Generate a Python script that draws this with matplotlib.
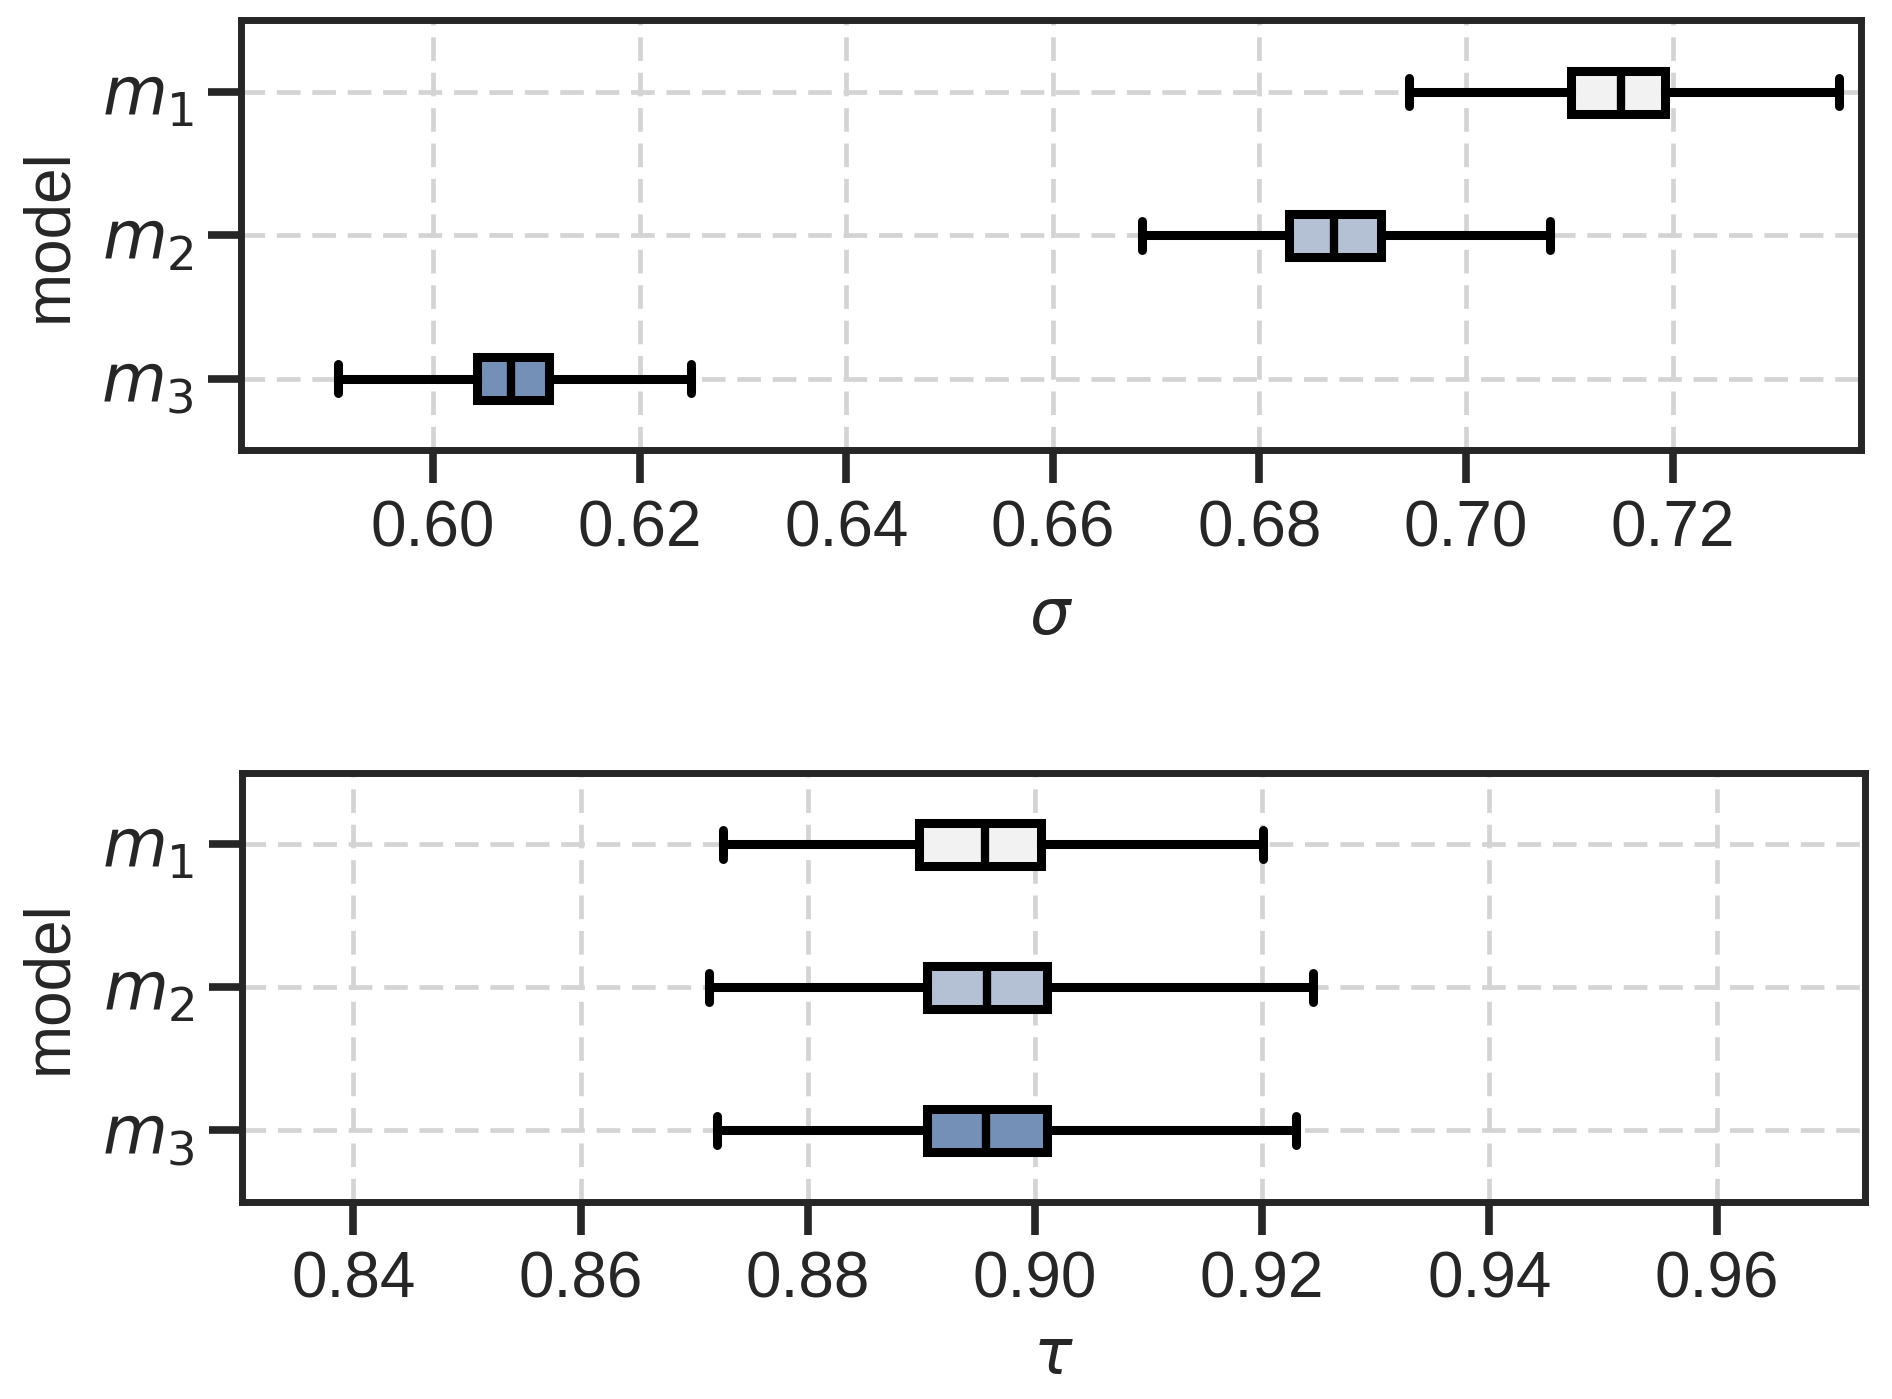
import matplotlib
matplotlib.use("Agg")
import matplotlib.pyplot as plt
import numpy as np

plt.rcParams["font.family"] = ["Liberation Sans", "DejaVu Sans"]
plt.rcParams["mathtext.fontset"] = "dejavusans"

# data (whisker low, q1, median, q3, whisker high)
models = ["$m_1$", "$m_2$", "$m_3$"]
box_colors = ["#f2f2f2", "#b4c1d5", "#7590b6"]

sigma_whislo = [0.6945, 0.6686, 0.5908]
sigma_q1 = [0.7102, 0.6829, 0.6042]
sigma_med = [0.7150, 0.6872, 0.6075]
sigma_q3 = [0.7193, 0.6918, 0.6112]
sigma_whishi = [0.7361, 0.7081, 0.6250]
sigma_ticks = [0.60, 0.62, 0.64, 0.66, 0.68, 0.70, 0.72]

tau_whislo = [0.8725, 0.8713, 0.8720]
tau_q1 = [0.8898, 0.8905, 0.8905]
tau_med = [0.8956, 0.8958, 0.8957]
tau_q3 = [0.9005, 0.9011, 0.9011]
tau_whishi = [0.9201, 0.9245, 0.9230]
tau_ticks = [0.84, 0.86, 0.88, 0.90, 0.92, 0.94, 0.96]

TEXT = "#262626"
FS = 46


def make_stats(lo, q1, med, q3, hi):
    return [dict(whislo=a, q1=b, med=c, q3=d, whishi=e, fliers=[])
            for a, b, c, d, e in zip(lo, q1, med, q3, hi)]


def draw_panel(ax, stats, ticks, xlim, xlabel, labelpad):
    ax.set_axisbelow(True)
    ax.grid(True, color="#d4d4d4", linewidth=3.4, linestyle=(0, (5, 2.5)))
    bp = ax.bxp(
        stats,
        positions=[0, 1, 2],
        widths=0.3,
        capwidths=0.2,
        orientation="horizontal",
        patch_artist=True,
        showfliers=False,
        boxprops=dict(linewidth=6.5, edgecolor="black"),
        whiskerprops=dict(linewidth=6.5, color="black"),
        capprops=dict(linewidth=6.5, color="black", solid_capstyle="round"),
        medianprops=dict(linewidth=6, color="black"),
    )
    for patch, c in zip(bp["boxes"], box_colors):
        patch.set_facecolor(c)
    ax.set_ylim(2.5, -0.5)
    ax.set_yticks([0, 1, 2])
    ax.set_yticklabels(models)
    ax.set_xlim(*xlim)
    ax.set_xticks(ticks)
    ax.set_xticklabels([f"{t:.2f}" for t in ticks])
    ax.tick_params(axis="both", labelsize=FS, length=24, width=5.5,
                   color=TEXT, labelcolor=TEXT)
    ax.tick_params(axis="x", pad=11)
    ax.tick_params(axis="y", pad=10, labelsize=48)
    for s in ax.spines.values():
        s.set_linewidth(5)
        s.set_color(TEXT)
    ax.set_xlabel(xlabel, fontsize=FS, color=TEXT, labelpad=labelpad)
    ax.set_ylabel("model", fontsize=FS, color=TEXT, labelpad=16)


fig = plt.figure(figsize=(18.92, 13.99), dpi=100)
ax1 = fig.add_axes([0.1274, 0.678, 0.8560, 0.3074])
ax2 = fig.add_axes([0.1279, 0.1408, 0.8580, 0.3069])

draw_panel(ax1, make_stats(sigma_whislo, sigma_q1, sigma_med, sigma_q3, sigma_whishi),
           sigma_ticks, (0.5814, 0.7382), r"$\sigma$", 20)
draw_panel(ax2, make_stats(tau_whislo, tau_q1, tau_med, tau_q3, tau_whishi),
           tau_ticks, (0.8302, 0.9731), r"$\tau$", 12)

fig.savefig("out.png", dpi=100)
